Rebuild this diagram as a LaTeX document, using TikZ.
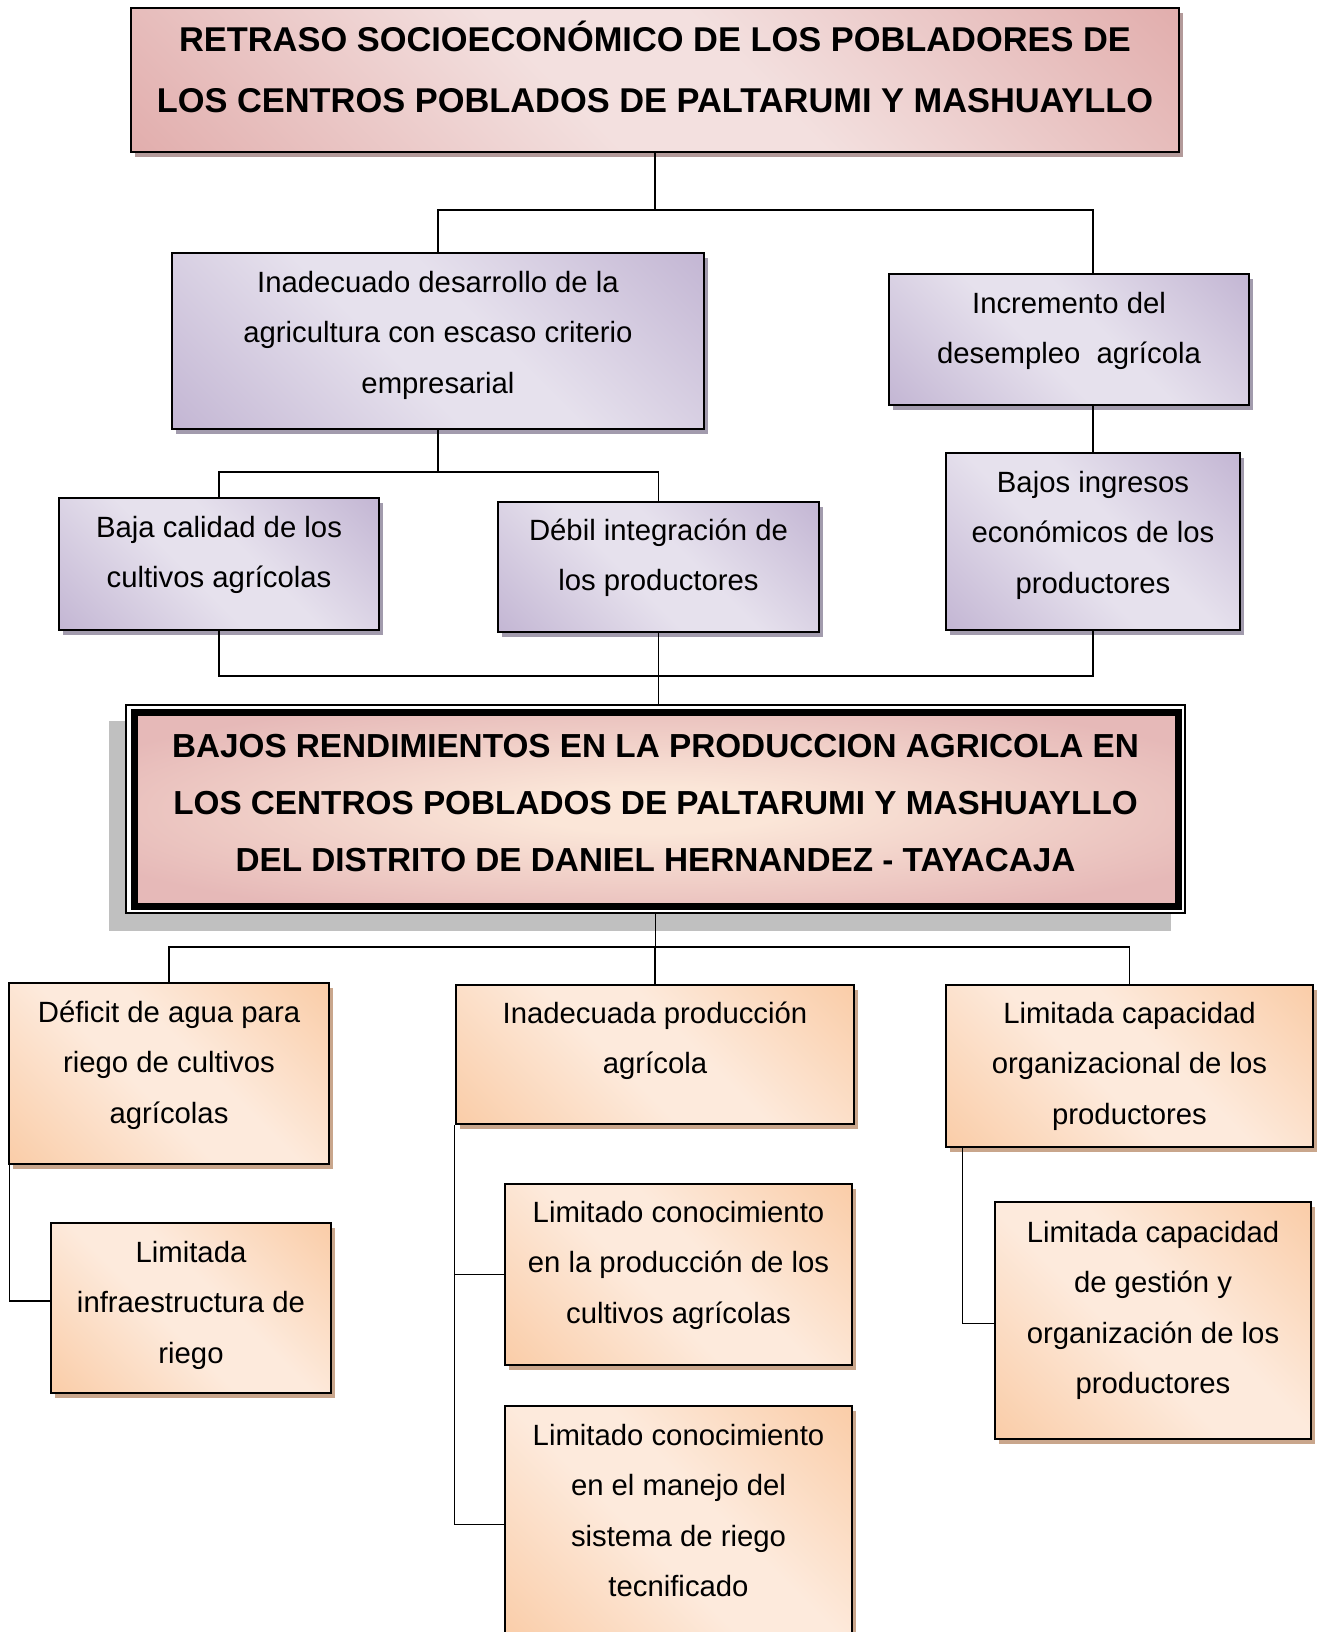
\documentclass[tikz,border=0pt]{standalone}
\usepackage{fontspec}
\setmainfont{Liberation Sans}
\usetikzlibrary{calc,shadows}
\definecolor{pinkD}{HTML}{D99594}
\definecolor{pinkL}{HTML}{F3E0DF}
\definecolor{pinkS}{HTML}{B39A9A}
\definecolor{purpD}{HTML}{B2A1C7}
\definecolor{purpL}{HTML}{E6E1ED}
\definecolor{purpS}{HTML}{A29BAD}
\definecolor{orD}{HTML}{F8BE8E}
\definecolor{orL}{HTML}{FDEADC}
\definecolor{orS}{HTML}{C9A68C}
\definecolor{mainE}{HTML}{E6B9B8}
\definecolor{mainC}{HTML}{FBE6D8}
\definecolor{mainS}{HTML}{C0C0C0}
\pgfdeclarehorizontalshading{pinkdiag}{100bp}{color(0bp)=(pinkD); color(44bp)=(pinkL); color(56bp)=(pinkL); color(100bp)=(pinkD)}
\pgfdeclarehorizontalshading{purpdiag}{100bp}{color(0bp)=(purpD); color(44bp)=(purpL); color(56bp)=(purpL); color(100bp)=(purpD)}
\pgfdeclarehorizontalshading{ordiag}{100bp}{color(0bp)=(orD); color(44bp)=(orL); color(56bp)=(orL); color(100bp)=(orD)}
\pgfdeclareradialshading{mainrad}{\pgfpoint{0bp}{0bp}}{color(0bp)=(mainC); color(6bp)=(mainC); color(30bp)=(mainE); color(60bp)=(mainE)}
\pgfdeclarelayer{bg}
\pgfsetlayers{bg,main}
\newcommand\bxt[4]{\parbox[c][#2pt][t]{#1pt}{\centering\rule{0pt}{#3pt}#4\par}}
\tikzset{
  box/.style={draw=black, line width=2.6pt, inner sep=0pt, shade, shading angle=45,
    font=\fontsize{29.3}{50.5}\selectfont},
  pinkbox/.style={box, shading=pinkdiag, font=\fontsize{34.4}{61}\selectfont\bfseries,
    drop shadow={shadow xshift=4pt, shadow yshift=-5pt, fill=pinkS, opacity=1}},
  purpbox/.style={box, shading=purpdiag,
    drop shadow={shadow xshift=4pt, shadow yshift=-5pt, fill=purpS, opacity=1}},
  orbox/.style={box, shading=ordiag,
    drop shadow={shadow xshift=4pt, shadow yshift=-5pt, fill=orS, opacity=1}},
  mainbox/.style={draw=black, line width=1.5pt, inner sep=0pt,
    font=\fontsize{33.3}{57}\selectfont\bfseries},
  conn/.style={draw=black, line width=1.5pt}
}
\begin{document}
\begin{tikzpicture}[x=1pt,y=-1pt]
\useasboundingbox (0,0) rectangle (1320,1632);
\clip (0,0) rectangle (1320,1632);

\node[pinkbox] (T) at (655,80) {\bxt{1048}{144}{44}{RETRASO SOCIOECONÓMICO DE LOS POBLADORES DE\\LOS CENTROS POBLADOS DE PALTARUMI Y MASHUAYLLO}};

\node[purpbox] (A) at (438,341) {\bxt{532}{176}{39}{Inadecuado desarrollo de la\\agricultura con escaso criterio\\empresarial}};
\node[purpbox] (B) at (1069,339.5) {\bxt{360}{131}{39}{Incremento del\\desempleo\ \ agrícola}};
\node[purpbox] (C) at (1093,541.5) {\bxt{294}{177}{39}{Bajos ingresos\\económicos de los\\productores}};
\node[purpbox] (D) at (219,564) {\bxt{320}{132}{39}{Baja calidad de los\\cultivos agrícolas}};
\node[purpbox] (E) at (658.5,567) {\bxt{321}{130}{38}{Débil integración de\\los productores}};

\node[mainbox] (M) at (655.5,809) {\bxt{1059}{208}{52}{BAJOS RENDIMIENTOS EN LA PRODUCCION AGRICOLA EN\\LOS CENTROS POBLADOS DE PALTARUMI Y MASHUAYLLO\\DEL DISTRITO DE DANIEL HERNANDEZ - TAYACAJA}};
\begin{pgfonlayer}{bg}
  \fill[mainS] ($(M.north west)+(-16,17)$) rectangle ($(M.south east)+(-15,17)$);
  \fill[white] (M.north west) rectangle (M.south east);
  \shade[shading=mainrad, draw=black, line width=7pt] ($(M.north west)+(9,8.5)$) rectangle ($(M.south east)+(-7.5,-7)$);
\end{pgfonlayer}

\node[orbox] (F) at (169,1073.5) {\bxt{320}{181}{39}{Déficit de agua para\\riego de cultivos\\agrícolas}};
\node[orbox] (G) at (655,1054.5) {\bxt{398}{139}{38}{Inadecuada producción\\agrícola}};
\node[orbox] (H) at (1129.5,1066) {\bxt{367}{162}{38}{Limitada capacidad\\organizacional de los\\productores}};
\node[orbox] (I) at (191,1308) {\bxt{280}{170}{39}{Limitada\\infraestructura de\\riego}};
\node[orbox] (J) at (678.5,1274.5) {\bxt{347}{181}{38}{Limitado conocimiento\\en la producción de los\\cultivos agrícolas}};
\node[orbox] (K) at (678.5,1524.5) {\bxt{347}{237}{39}{Limitado conocimiento\\en el manejo del\\sistema de riego\\tecnificado}};
\node[orbox] (L) at (1153,1320.5) {\bxt{316}{237}{40}{Limitada capacidad\\de gestión y\\organización de los\\productores}};

\coordinate (y1) at (0,210);
\coordinate (y2) at (0,472);
\coordinate (yb) at (0,676);
\coordinate (y3) at (0,947);

\draw[conn] (T.south) -- (T.south |- y1);
\draw[conn] (A.north) -- (A.north |- y1) -- (C.north |- y1) -- (C.north |- B.north);
\draw[conn] (C.north |- B.south) -- (C.north);
\draw[conn] (A.south) -- (A.south |- y2);
\draw[conn] (D.north) -- (D.north |- y2) -- (E.north |- y2) -- (E.north);
\draw[conn] (D.south) -- (D.south |- yb) -- (C.south |- yb) -- (C.south);
\draw[conn] (E.south) -- (E.south |- M.north);
\draw[conn] (M.south) -- (M.south |- y3);
\draw[conn] (F.north) -- (F.north |- y3) -- (H.north |- y3) -- (H.north);
\draw[conn] (G.north) -- (G.north |- y3);
\draw[conn] ($(F.south west)+(2,0)$) |- ($(I.west)+(0,-7)$);
\draw[conn] (G.south west) |- (J.west);
\draw[conn] (G.south west) |- (K.west);
\draw[conn] ($(H.south west)+(18,0)$) |- ($(L.west)+(0,3)$);
\end{tikzpicture}
\end{document}
